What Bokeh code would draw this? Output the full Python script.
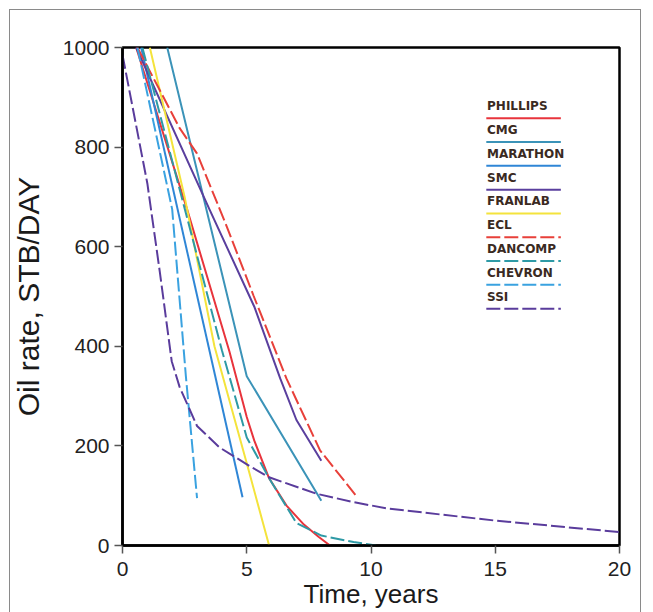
from bokeh.plotting import figure
from bokeh.models import Range1d, FixedTicker
from bokeh.core.properties import value
from bokeh.embed import file_html
from bokeh.resources import INLINE

# ---- data ----
names = ["PHILLIPS", "CMG", "MARATHON", "SMC", "FRANLAB", "ECL", "DANCOMP", "CHEVRON", "SSI"]

phillips_t = [0.55, 2.6, 4.3, 5.0, 5.3, 5.9, 6.6, 7.3, 7.9, 8.35]
phillips_q = [1000, 675, 390, 258, 211, 135, 80, 42, 17, 0]
cmg_t = [1.8, 5.0, 8.0]
cmg_q = [1000, 340, 90]
marathon_t = [0.75, 4.83]
marathon_q = [1000, 97]
smc_t = [0.55, 3.5, 5.3, 6.35, 7.0, 8.0]
smc_q = [1000, 675, 480, 335, 252, 170]
franlab_t = [1.1, 2.5, 3.7, 5.0, 5.9]
franlab_q = [1000, 700, 400, 165, 0]
ecl_t = [0.6, 2.3, 3.0, 4.2, 5.27, 6.6, 7.95, 9.4]
ecl_q = [1000, 838, 787, 640, 502, 335, 191, 100]
dancomp_t = [0.8, 4.0, 5.0, 5.9, 7.0, 8.0, 9.3, 10.2]
dancomp_q = [1000, 392, 217, 135, 45, 20, 7, 0]
chevron_t = [0.6, 2.0, 2.55, 3.0]
chevron_q = [1000, 675, 340, 95]
ssi_t = [0, 1.0, 1.5, 1.98, 2.3, 3.0, 3.9, 5.1, 5.9, 7.8, 9.3, 10.7, 15, 20]
ssi_q = [985, 727, 550, 370, 318, 240, 197, 160, 137, 104, 87, 74, 50, 27]

x_ticks = [0, 5, 10, 15, 20]
y_ticks = [0, 200, 400, 600, 800, 1000]

series_t = [phillips_t, cmg_t, marathon_t, smc_t, franlab_t, ecl_t, dancomp_t, chevron_t, ssi_t]
series_q = [phillips_q, cmg_q, marathon_q, smc_q, franlab_q, ecl_q, dancomp_q, chevron_q, ssi_q]

colors = ["#e8343c", "#3b93b8", "#2f86d6", "#5a3f9e", "#f4e33c",
          "#e8403a", "#2e9aa6", "#3aa2e0", "#5a3c9c"]
dashes = ["solid", "solid", "solid", "solid", "solid",
          "14 4", "14 4", "14 4", "14 4"]

p = figure(width=653, height=612,
           x_range=Range1d(0, 20), y_range=Range1d(0, 1000),
           output_backend="svg", toolbar_location=None,
           min_border_left=122, min_border_right=34,
           min_border_top=47, min_border_bottom=67)

p.background_fill_color = "white"
p.border_fill_color = None
g = "linear-gradient(#8a8a8a,#8a8a8a)"
p.styles = {"background": f"{g} 9px 9px / 1px 100% no-repeat, "
                          f"{g} 640px 9px / 1px 100% no-repeat, "
                          f"{g} 9px 9px / 632px 1px no-repeat, white"}
p.outline_line_color = "black"
p.outline_line_width = 2.5
p.xgrid.visible = False
p.ygrid.visible = False

for ax, ticks in ((p.xaxis, x_ticks), (p.yaxis, y_ticks)):
    ax.ticker = FixedTicker(ticks=ticks)
    ax.minor_tick_line_color = None
    ax.major_tick_in = 0
    ax.major_tick_out = 8
    ax.major_tick_line_color = "#555555"
    ax.major_tick_line_width = 1.5
    ax.axis_line_color = "black"
    ax.axis_line_width = 2.5
    ax.major_label_text_font = "Liberation Sans"
    ax.major_label_text_font_size = "21px"
    ax.major_label_text_color = "#222222"
    ax.axis_label_text_font = "Liberation Sans"
    ax.axis_label_text_font_size = "26px"
    ax.axis_label_text_font_style = "normal"
    ax.axis_label_text_color = "#1a1a1a"

p.xaxis.axis_label = "Time, years"
p.yaxis.axis_label = "Oil rate, STB/DAY"
p.yaxis.axis_label_text_font_size = "30px"
p.xaxis.major_label_standoff = 8
p.yaxis.major_label_standoff = 5
p.xaxis.axis_label_standoff = 0
p.yaxis.axis_label_standoff = 15

for t, q, c, d in zip(series_t, series_q, colors, dashes):
    p.line(t, q, line_color=c, line_width=2, line_dash=d)

# legend: label above a sample line
leg_x0, leg_x1 = 14.64, 17.64
leg_top, leg_step = 858, 47.8
for i, (name, c, d) in enumerate(zip(names, colors, dashes)):
    yl = leg_top - i * leg_step
    p.line([leg_x0, leg_x1], [yl, yl], line_color=c, line_width=2, line_dash=d)
    p.text(x=[leg_x0 + 0.03], y=[yl + 10], text=[name],
           text_font=value("DejaVu Sans"), text_font_style="bold",
           text_font_size="12px", text_color="#3a2a22",
           text_baseline="bottom", text_align="left")

open("out.html", "w").write(file_html(p, INLINE))
